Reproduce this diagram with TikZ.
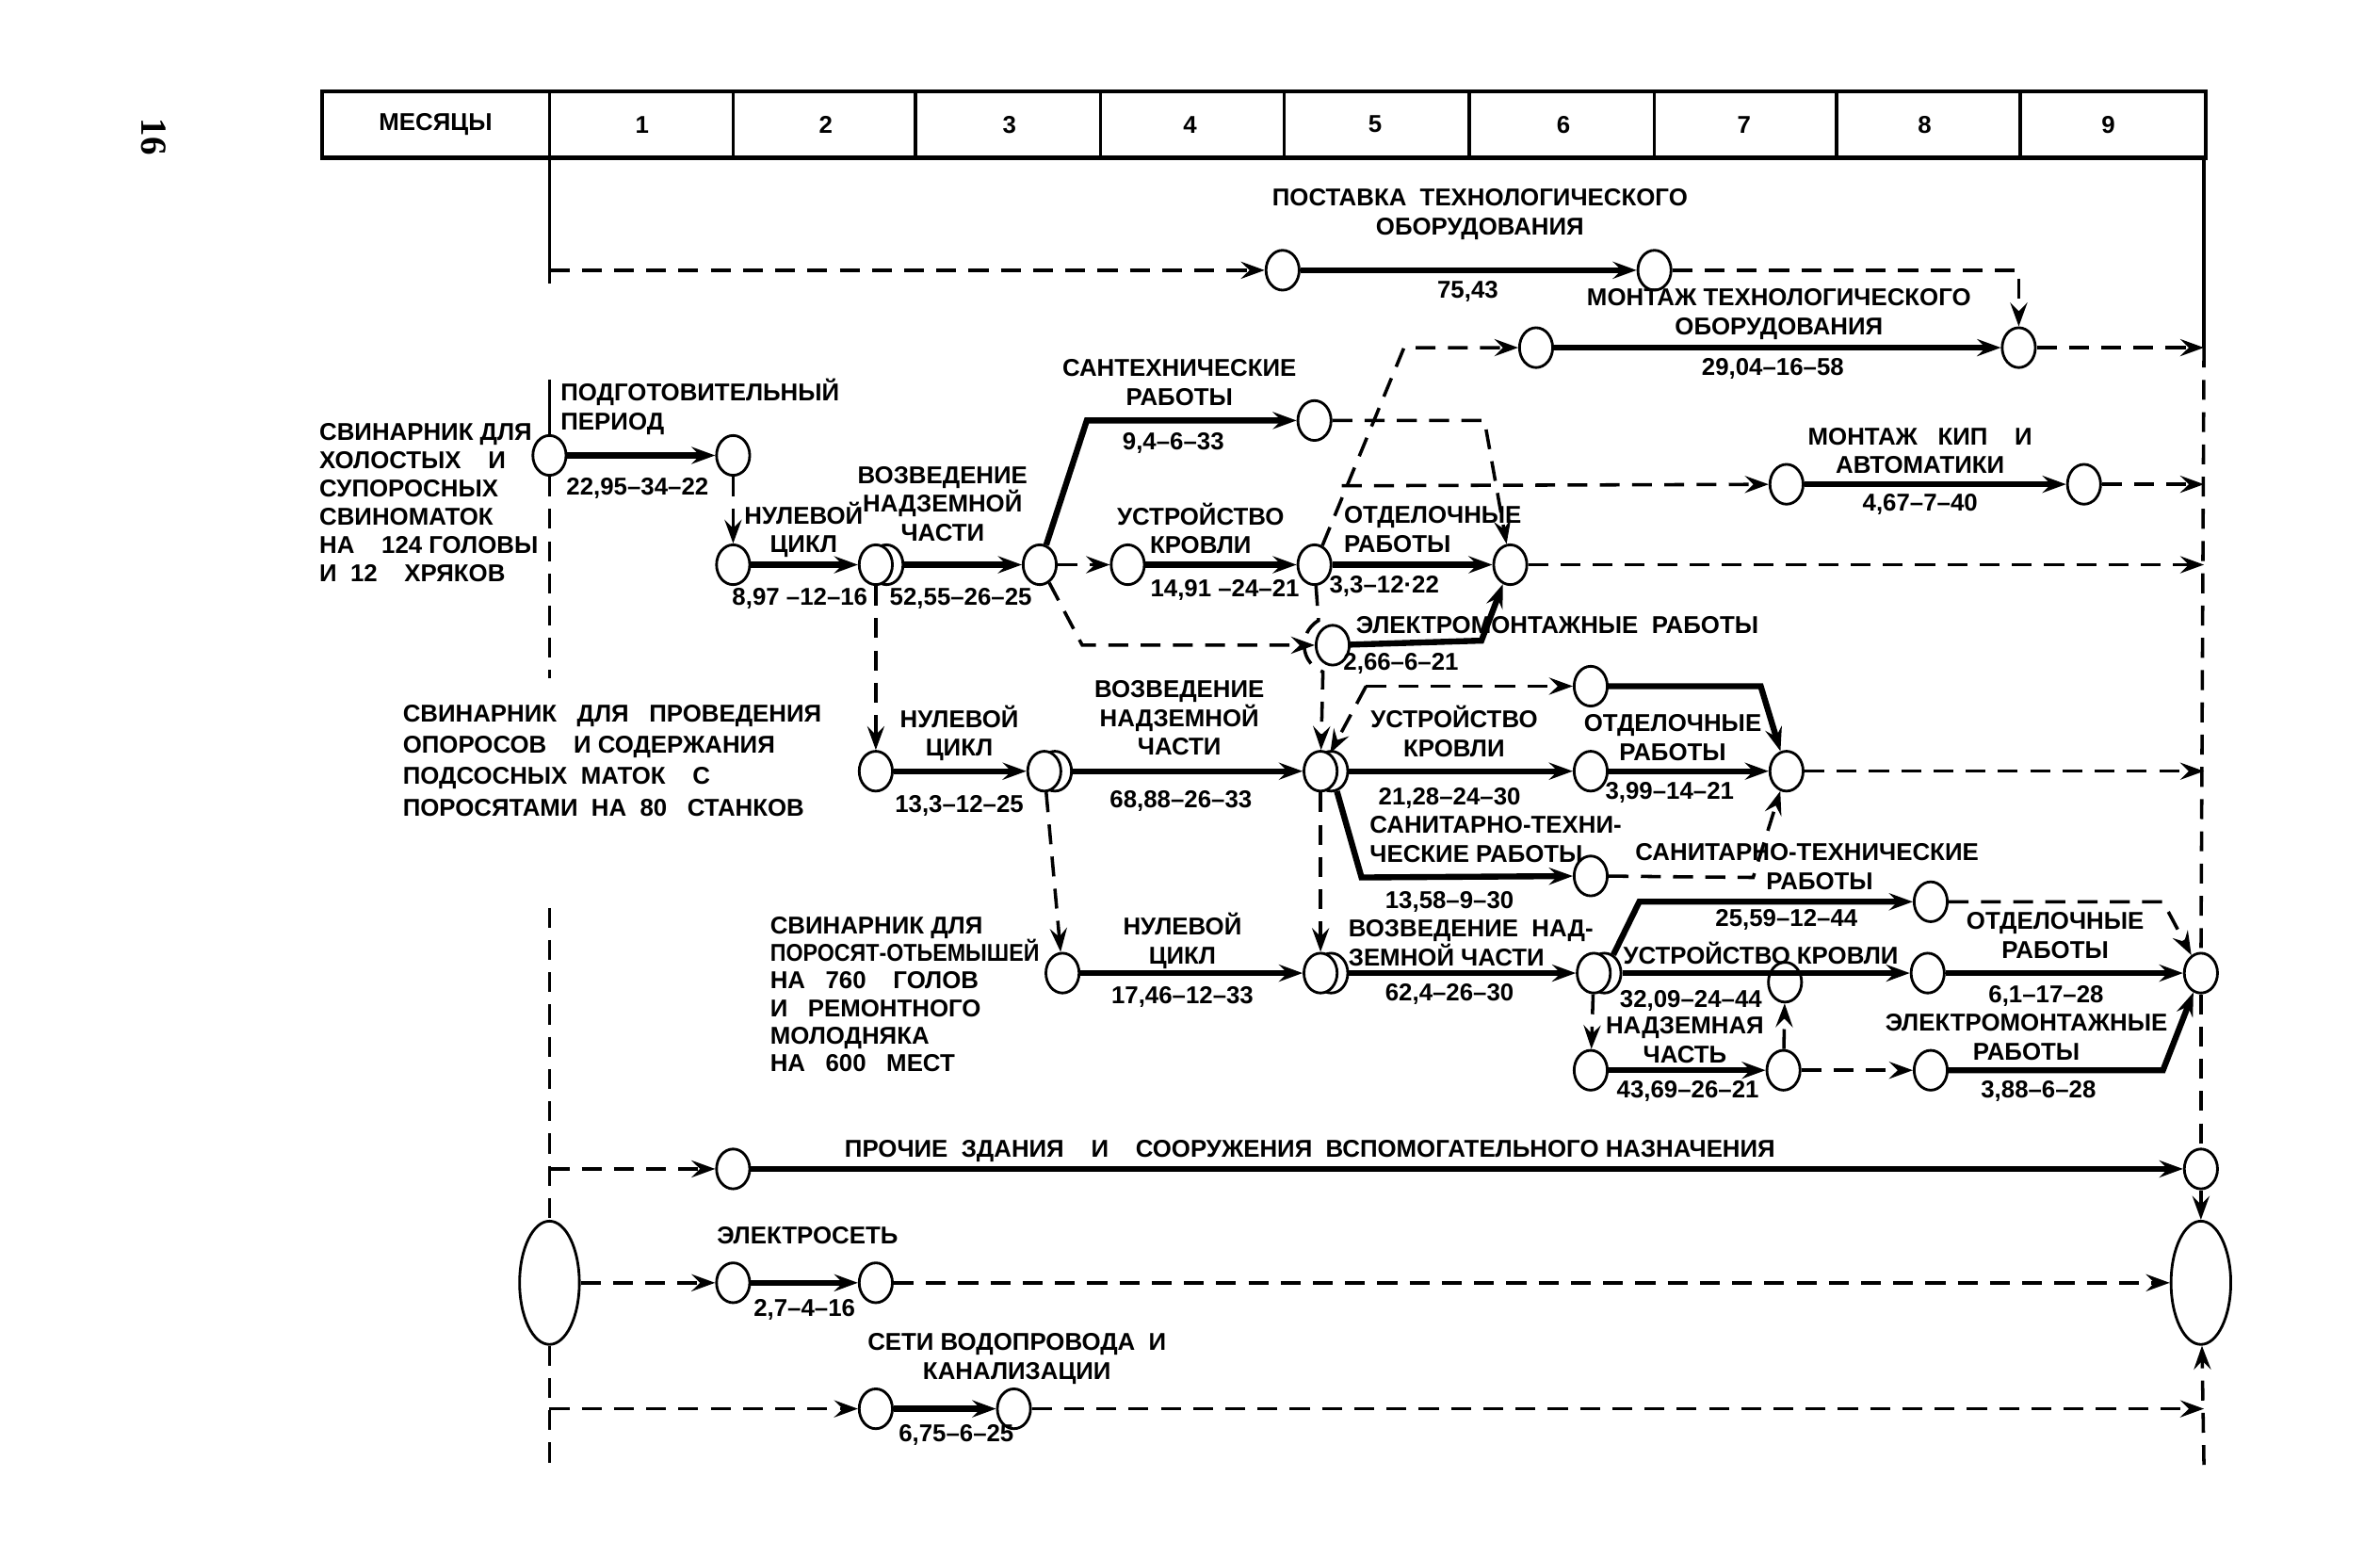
\documentclass[tikz,border=0pt]{standalone}
\usepackage{fontspec}
\setmainfont{Liberation Sans}
\newfontfamily\pagefont{Liberation Serif}
\usetikzlibrary{arrows.meta,shapes.geometric,calc}

\tikzset{
  ev/.style={draw, ellipse, line width=0.8pt, fill=white, inner sep=0pt,
    minimum width=0.35cm, minimum height=0.42cm},
  bigev/.style={ev, minimum width=0.63cm, minimum height=1.3cm},
  work/.style={line width=1.8pt, ->},
  dep/.style={line width=1pt, dash pattern=on 0.21cm off 0.13cm, ->},
  dline/.style={line width=1pt, dash pattern=on 0.21cm off 0.13cm},
  txt/.style={font=\bfseries\fontsize{7.3}{8.7}\selectfont, align=center, inner sep=0pt},
  ltxt/.style={txt, align=left, anchor=west},
}

\begin{document}
\begin{tikzpicture}[x=0.016cm, y=-0.016cm, >={Stealth[length=2.5mm,width=1.8mm,inset=0.9mm]}]
    \useasboundingbox (0,0) rectangle (1568,1026);

    % Page number
    \node[font=\pagefont\bfseries\fontsize{11}{11}\selectfont, rotate=-90] (page) at (101,90) {16};

    % Month scale
    \draw[line width=1.2pt] (212,60) rectangle (1453,104);
    \draw[line width=1pt] (362,60) -- (362,104) (483,60) -- (483,104) (603,60) -- (603,104)
        (725,60) -- (725,104) (846,60) -- (846,104) (968,60) -- (968,104)
        (1090,60) -- (1090,104) (1210,60) -- (1210,104) (1331,60) -- (1331,104);
    \node[txt] (mes) at (287,82) {МЕСЯЦЫ};
    \node[txt] (m1) at (423,82) {1};
    \node[txt] (m2) at (544,82) {2};
    \node[txt] (m3) at (665,82) {3};
    \node[txt] (m4) at (784,82) {4};
    \node[txt] (m5) at (906,82) {5};
    \node[txt] (m6) at (1030,82) {6};
    \node[txt] (m7) at (1149,82) {7};
    \node[txt] (m8) at (1268,82) {8};
    \node[txt] (m9) at (1389,82) {9};

    % Start and finish lines
    \coordinate (L0) at (362,104);
    \coordinate (L1) at (362,187);
    \coordinate (LT) at (362,178);
    \coordinate (LA) at (362,250);
    \coordinate (LB) at (362,447);
    \coordinate (LC) at (362,598);
    \coordinate (LP) at (362,770);
    \coordinate (LW) at (362,928);
    \coordinate (LD) at (362,965);
    \coordinate (R0) at (1452,104);
    \coordinate (RM) at (1452,229);
    \coordinate (RK) at (1452,319);
    \coordinate (RO) at (1452,372);
    \coordinate (RB2) at (1452,508);
    \coordinate (RW) at (1452,928);
    \coordinate (RB) at (1452,965);

    % Events
    \node[ev] (P1) at (845,178) {};
    \node[ev] (P2) at (1090,178) {};
    \node[ev] (M1) at (1012,229) {};
    \node[ev] (M2) at (1330,229) {};
    \node[ev] (S0) at (362,300) {};
    \node[ev] (S1) at (483,300) {};
    \node[ev] (N1) at (483,372) {};
    \node[ev] (N2b) at (584,372) {};
    \node[ev] (N2) at (577,372) {};
    \node[ev] (N3) at (685,372) {};
    \node[ev] (SAN) at (866,277) {};
    \node[ev] (KR1) at (743,372) {};
    \node[ev] (K2) at (866,372) {};
    \node[ev] (OT2) at (995,372) {};
    \node[ev] (E1) at (878,425) {};
    \node[ev] (KIP1) at (1177,319) {};
    \node[ev] (KIP2) at (1373,319) {};
    \node[ev] (NB1) at (577,508) {};
    \node[ev] (NB2b) at (695,508) {};
    \node[ev] (NB2) at (688,508) {};
    \node[ev] (V2b) at (877,508) {};
    \node[ev] (V2) at (870,508) {};
    \node[ev] (OTB1) at (1048,452) {};
    \node[ev] (KRB) at (1048,508) {};
    \node[ev] (OTB2) at (1177,508) {};
    \node[ev] (SAN2) at (1048,577) {};
    \node[ev] (C1) at (700,641) {};
    \node[ev] (V3b) at (877,641) {};
    \node[ev] (V3) at (870,641) {};
    \node[ev] (C3b) at (1057,641) {};
    \node[ev] (C3) at (1050,641) {};
    \node[ev] (CN) at (1176,647) {};
    \node[ev] (KRC) at (1270,641) {};
    \node[ev] (OTC1) at (1272,594) {};
    \node[ev] (NC1) at (1048,705) {};
    \node[ev] (NC2) at (1175,705) {};
    \node[ev] (EC1) at (1272,705) {};
    \node[ev] (F) at (1450,641) {};
    \node[ev] (PR1) at (483,770) {};
    \node[ev] (PR2) at (1450,770) {};
    \node[bigev] (START) at (362,845) {};
    \node[bigev] (FIN) at (1450,845) {};
    \node[ev] (EL1) at (483,845) {};
    \node[ev] (EL2) at (577,845) {};
    \node[ev] (W1) at (577,928) {};
    \node[ev] (W2) at (668,928) {};

    % Corners
    \coordinate (DG) at (925,229);
    \coordinate (BR) at (884,320);
    \coordinate (SA) at (716,277);
    \coordinate (EA) at (713,425);
    \coordinate (EB) at (976,422);
    \coordinate (SB) at (978,277);
    \coordinate (UK) at (900,452);
    \coordinate (OA) at (1160,452);
    \coordinate (SV) at (897,578);
    \coordinate (SB2) at (1155,578);
    \coordinate (CA) at (1080,594);
    \coordinate (OB) at (1425,594);
    \coordinate (EA2) at (1425,705);

    % Start / finish lines
    \draw[line width=1pt] (L0) -- (L1);
    \draw[line width=1pt] (LA) -- (S0);
    \draw[dline] (S0) -- (LB);
    \draw[dline] (LC) -- (START);
    \draw[dline] (START) -- (LD);
    \draw[line width=1pt] (R0) -- (RM);
    \draw[dline] (RM) -- (F);
    \draw[dline] (F) -- (PR2);

    % Equipment
    \draw[dep] (LT) -- (P1);
    \draw[work] (P1) -- (P2);
    \draw[dep] (P2) -| (M2);
    \draw[work] (M1) -- (M2);
    \draw[dep] (M2) -- (RM);
    \draw[dep] (K2) -- (DG) -- (M1);
    \draw[dep] (BR) -- (KIP1);
    \draw[work] (KIP1) -- (KIP2);
    \draw[dep] (KIP2) -- (RK);

    % Building 1
    \draw[work] (S0) -- (S1);
    \draw[dep] (S1) -- (N1);
    \draw[work] (N1) -- (N2);
    \draw[work] (N2b) -- (N3);
    \draw[work] (N3) -- (SA) -- (SAN);
    \draw[dep] (N3) -- (KR1);
    \draw[work] (KR1) -- (K2);
    \draw[work] (K2) -- (OT2);
    \draw[dep] (N3) -- (EA) -- (E1);
    \draw[work] (E1) -- (EB) -- (OT2);
    \draw[dep] (SAN) -- (SB) -- (OT2);
    \draw[dep] (OT2) -- (RO);
    \draw[dep] (K2) -- ($(E1)+(120:0.3cm)$) arc[start angle=120, end angle=250, radius=0.3cm] -- (V2);
    \draw[dep] (N2) -- (NB1);

    % Building 2
    \draw[work] (NB1) -- (NB2);
    \draw[work] (NB2b) -- (V2);
    \draw[dep] (UK) -- (V2);
    \draw[dep] (UK) -- (OTB1);
    \draw[work] (V2b) -- (KRB);
    \draw[work] (KRB) -- (OTB2);
    \draw[work] (OTB1) -- (OA) -- (OTB2);
    \draw[work] (V2b) -- (SV) -- (SAN2);
    \draw[dep] (SAN2) -- (SB2) -- (OTB2);
    \draw[dep] (OTB2) -- (RB2);
    \draw[dep] (V2) -- (V3);
    \draw[dep] (NB2) -- (C1);

    % Building 3
    \draw[work] (C1) -- (V3);
    \draw[work] (V3b) -- (C3);
    \draw[work] (C3b) -- (CA) -- (OTC1);
    \draw[work] (C3b) -- (KRC);
    \draw[dep] (C3) -- (NC1);
    \draw[work] (NC1) -- (NC2);
    \draw[dep] (NC2) -- (CN);
    \draw[dep] (NC2) -- (EC1);
    \draw[work] (EC1) -- (EA2) -- (F);
    \draw[work] (KRC) -- (F);
    \draw[dep] (OTC1) -- (OB) -- (F);

    % Other works
    \draw[dep] (LP) -- (PR1);
    \draw[work] (PR1) -- (PR2);
    \draw[dep] (PR2) -- (FIN);
    \draw[dep] (START) -- (EL1);
    \draw[work] (EL1) -- (EL2);
    \draw[dep] (EL2) -- (FIN);
    \draw[dep] (LW) -- (W1);
    \draw[work] (W1) -- (W2);
    \draw[dep] (W2) -- (RW);
    \draw[dep] (RB) -- (FIN);

    % Labels: equipment
    \node[txt] (tpost) at (975,141) {ПОСТАВКА\ \ ТЕХНОЛОГИЧЕСКОГО\\ОБОРУДОВАНИЯ};
    \node[txt] (vpost) at (967,192) {75,43};
    \node[txt] (tmont) at (1172,207) {МОНТАЖ ТЕХНОЛОГИЧЕСКОГО\\ОБОРУДОВАНИЯ};
    \node[txt] (vmont) at (1168,243) {29,04–16–58};
    \node[txt] (tkip) at (1265,297) {МОНТАЖ\ \ \ КИП\ \ \ \ И\\АВТОМАТИКИ};
    \node[txt] (vkip) at (1265,332) {4,67–7–40};

    % Labels: building 1
    \node[ltxt, font=\bfseries\fontsize{7.3}{8.5}\selectfont] (bld1) at (210,331)
        {СВИНАРНИК ДЛЯ\\ХОЛОСТЫХ\ \ \ \ И\\СУПОРОСНЫХ\\СВИНОМАТОК\\НА\ \ \ \ 124 ГОЛОВЫ\\И\ \ 12\ \ \ \ ХРЯКОВ};
    \node[ltxt] (tpodg) at (369,268) {ПОДГОТОВИТЕЛЬНЫЙ\\ПЕРИОД};
    \node[txt] (vpodg) at (420,322) {22,95–34–22};
    \node[txt, anchor=west] (tnul1) at (490,349) {НУЛЕВОЙ\\ЦИКЛ};
    \node[txt] (vnul1) at (527,394) {8,97 –12–16};
    \node[txt] (tvoz1) at (621,332) {ВОЗВЕДЕНИЕ\\НАДЗЕМНОЙ\\ЧАСТИ};
    \node[txt] (vvoz1) at (633,394) {52,55–26–25};
    \node[txt] (tsan1) at (777,252) {САНТЕХНИЧЕСКИЕ\\РАБОТЫ};
    \node[txt] (vsan1) at (773,292) {9,4–6–33};
    \node[txt] (tkr1) at (791,348) {УСТРОЙСТВО\\КРОВЛИ};
    \node[txt] (vkr1) at (807,389) {14,91 –24–21};
    \node[ltxt] (tot1) at (885,349) {ОТДЕЛОЧНЫЕ\\РАБОТЫ};
    \node[txt] (vot1) at (912,386) {3,3–12·22};
    \node[ltxt] (tel1) at (893,412) {ЭЛЕКТРОМОНТАЖНЫЕ\ \ РАБОТЫ};
    \node[txt] (vel1) at (923,437) {2,66–6–21};

    % Labels: building 2
    \node[ltxt, font=\bfseries\fontsize{7.3}{9.4}\selectfont] (bld2) at (265,501)
        {СВИНАРНИК\ \ \ ДЛЯ\ \ \ ПРОВЕДЕНИЯ\\ОПОРОСОВ\ \ \ \ И СОДЕРЖАНИЯ\\ПОДСОСНЫХ\ \ МАТОК\ \ \ \ С\\ПОРОСЯТАМИ\ \ НА\ \ 80\ \ \ СТАНКОВ};
    \node[txt] (tnul2) at (632,483) {НУЛЕВОЙ\\ЦИКЛ};
    \node[txt] (vnul2) at (632,531) {13,3–12–25};
    \node[txt] (tvoz2) at (777,473) {ВОЗВЕДЕНИЕ\\НАДЗЕМНОЙ\\ЧАСТИ};
    \node[txt] (vvoz2) at (778,528) {68,88–26–33};
    \node[txt] (tkr2) at (958,482) {УСТРОЙСТВО\\КРОВЛИ};
    \node[txt] (vkr2) at (955,526) {21,28–24–30};
    \node[txt] (tot2) at (1102,486) {ОТДЕЛОЧНЫЕ\\РАБОТЫ};
    \node[txt] (vot2) at (1100,522) {3,99–14–21};
    \node[ltxt] (tsan2) at (902,553) {САНИТАРНО-ТЕХНИ-\\ЧЕСКИЕ РАБОТЫ};
    \node[txt] (vsan2) at (955,594) {13,58–9–30};
    \node[ltxt] (tsan3) at (1077,571) {САНИТАРНО-ТЕХНИЧЕСКИЕ\\\hspace*{1.38cm}РАБОТЫ};

    % Labels: building 3
    \node[ltxt, font=\bfseries\fontsize{7.3}{8.3}\selectfont] (bld3) at (507,655)
        {СВИНАРНИК ДЛЯ\\\scalebox{0.9}[1]{ПОРОСЯТ-ОТЬЕМЫШЕЙ}\\НА\ \ \ 760\ \ \ \ ГОЛОВ\\И\ \ \ РЕМОНТНОГО\\МОЛОДНЯКА\\НА\ \ \ 600\ \ \ МЕСТ};
    \node[txt] (tnul3) at (779,620) {НУЛЕВОЙ\\ЦИКЛ};
    \node[txt] (vnul3) at (779,657) {17,46–12–33};
    \node[ltxt] (tvoz3) at (888,621) {ВОЗВЕДЕНИЕ\ \ НАД-\\ЗЕМНОЙ ЧАСТИ};
    \node[txt] (vvoz3) at (955,655) {62,4–26–30};
    \node[txt] (vkr3a) at (1177,606) {25,59–12–44};
    \node[txt] (tkr3) at (1160,628) {УСТРОЙСТВО КРОВЛИ};
    \node[txt] (vkr3) at (1114,659) {32,09–24–44};
    \node[txt] (tnad3) at (1110,685) {НАДЗЕМНАЯ\\ЧАСТЬ};
    \node[txt] (vnad3) at (1112,719) {43,69–26–21};
    \node[txt] (tot3) at (1354,616) {ОТДЕЛОЧНЫЕ\\РАБОТЫ};
    \node[txt] (vot3) at (1348,656) {6,1–17–28};
    \node[txt] (tel3) at (1335,683) {ЭЛЕКТРОМОНТАЖНЫЕ\\РАБОТЫ};
    \node[txt] (vel3) at (1343,719) {3,88–6–28};

    % Labels: other works
    \node[txt] (tpro) at (863,758) {ПРОЧИЕ\ \ ЗДАНИЯ\ \ \ \ И\ \ \ \ СООРУЖЕНИЯ\ \ ВСПОМОГАТЕЛЬНОГО НАЗНАЧЕНИЯ};
    \node[txt] (tels) at (532,814) {ЭЛЕКТРОСЕТЬ};
    \node[txt] (vels) at (530,863) {2,7–4–16};
    \node[txt] (tvod) at (670,895) {СЕТИ ВОДОПРОВОДА\ \ И\\КАНАЛИЗАЦИИ};
    \node[txt] (vvod) at (630,945) {6,75–6–25};
\end{tikzpicture}
\end{document}
